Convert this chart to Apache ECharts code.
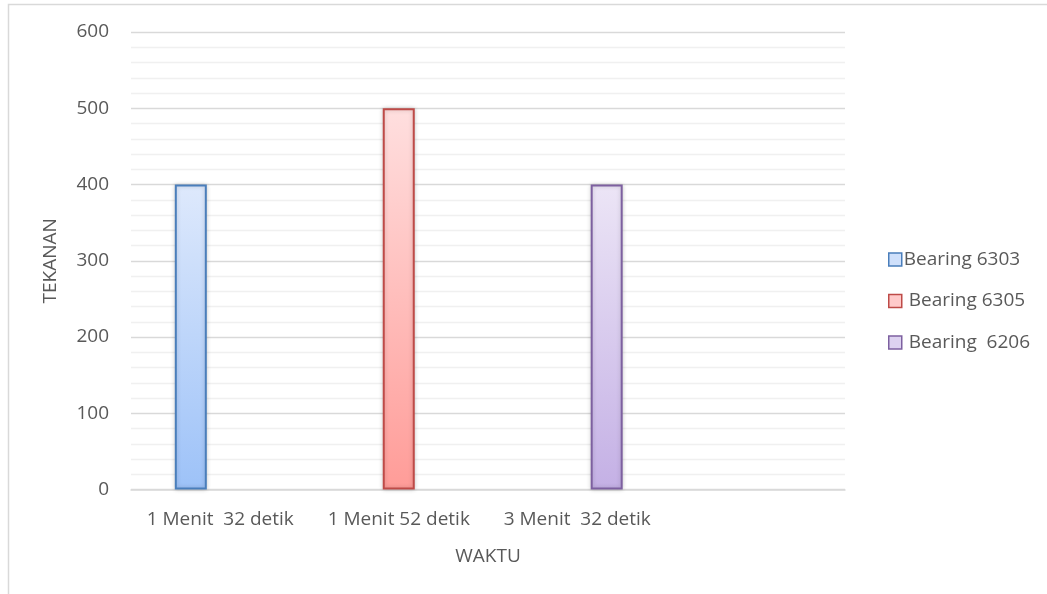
<!DOCTYPE html>
<html>
<head>
<meta charset="utf-8">
<script src="https://cdn.jsdelivr.net/npm/echarts@6/dist/echarts.min.js"></script>
<style>
  html, body { margin: 0; padding: 0; background: #fff; }
  #chart { width: 1047px; height: 594px; }
</style>
</head>
<body>
<div id="chart"></div>
<script>
// Waktu (x categories); the fourth slot is left empty
const categories = ['1 Menit  32 detik', '1 Menit 52 detik', '3 Menit  32 detik', ''];
const seriesNames = ['Bearing 6303', ' Bearing 6305', ' Bearing  6206'];
// Tekanan per bearing, one value per category slot
const bearing6303 = [400, '-', '-', '-'];
const bearing6305 = ['-', 500, '-', '-'];
const bearing6206 = ['-', '-', 400, '-'];
const yTicks = [0, 100, 200, 300, 400, 500, 600];

const font = 'Open Sans, Noto Sans, sans-serif';
const textColor = '#595959';
const fs = 19;

function grad(top, bottom) {
  return new echarts.graphic.LinearGradient(0, 0, 0, 1, [
    { offset: 0, color: top },
    { offset: 1, color: bottom }
  ]);
}

const styles = [
  { top: '#dee9fc', bottom: '#9dc2f8', border: '#4a7ebb', icon: '#cfe0fb' },
  { top: '#ffdfdf', bottom: '#ff9c98', border: '#be4b48', icon: '#ffcaca' },
  { top: '#ece5f6', bottom: '#c4b0e5', border: '#7d60a0', icon: '#ddd2f0' }
];
const values = [bearing6303, bearing6305, bearing6206];

const chart = echarts.init(document.getElementById('chart'), null, { renderer: 'canvas' });

chart.setOption({
  animation: false,
  backgroundColor: '#fff',
  graphic: [{
    type: 'rect',
    shape: { x: 8.5, y: 4.5, width: 1100, height: 700 },
    style: { fill: 'none', stroke: '#d9d9d9', lineWidth: 1.5 },
    silent: true,
    z: -1
  }],
  grid: { left: 131, right: 202, top: 32, bottom: 104.5, containLabel: false },
  legend: {
    orient: 'vertical',
    left: 883,
    top: 245,
    itemWidth: 13,
    itemHeight: 13,
    itemGap: 22.5,
    icon: 'rect',
    textStyle: { color: textColor, fontSize: fs, fontFamily: font, padding: [0, 0, 0, -3] },
    data: seriesNames.map((n, i) => ({
      name: n,
      itemStyle: { color: styles[i].icon, borderColor: styles[i].border, borderWidth: 1.5 }
    }))
  },
  xAxis: {
    type: 'category',
    data: categories,
    boundaryGap: true,
    name: 'WAKTU',
    nameLocation: 'middle',
    nameGap: 58,
    nameTextStyle: { color: textColor, fontSize: fs, fontFamily: font },
    axisLine: { show: true, lineStyle: { color: '#d9d9d9', width: 1.5 } },
    axisTick: { show: false },
    axisLabel: { color: textColor, fontSize: fs, fontFamily: font, margin: 21, interval: 0 }
  },
  yAxis: {
    type: 'value',
    min: yTicks[0],
    max: yTicks[yTicks.length - 1],
    interval: 100,
    name: 'TEKANAN',
    nameLocation: 'middle',
    nameGap: 71,
    nameTextStyle: { color: textColor, fontSize: fs, fontFamily: font },
    axisLine: { show: false },
    axisTick: { show: false },
    axisLabel: { color: textColor, fontSize: fs, fontFamily: font, margin: 22 },
    splitLine: { show: true, lineStyle: { color: '#d9d9d9', width: 1.3 } },
    minorTick: { show: false, splitNumber: 5 },
    minorSplitLine: { show: true, lineStyle: { color: '#f0f0f0', width: 1.3 } }
  },
  series: seriesNames.map((n, i) => ({
    name: n,
    type: 'bar',
    data: values[i],
    barWidth: 32,
    barGap: '-8%',
    itemStyle: {
      color: grad(styles[i].top, styles[i].bottom),
      borderColor: styles[i].border,
      borderWidth: 2,
      shadowColor: 'rgba(0,0,0,0.18)',
      shadowBlur: 4
    }
  }))
});
</script>
</body>
</html>
